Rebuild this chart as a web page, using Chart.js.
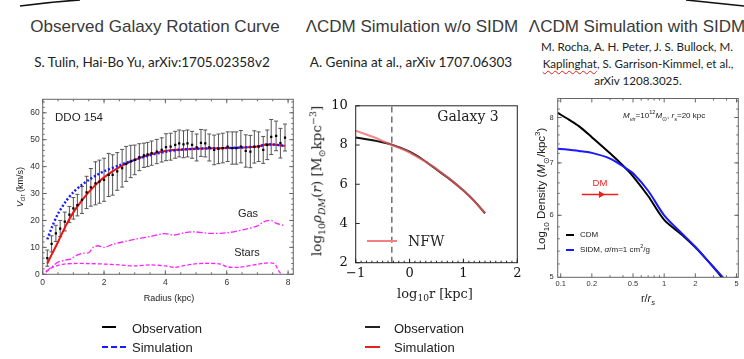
<!DOCTYPE html>
<html>
<head>
<meta charset="utf-8">
<script src="https://cdn.jsdelivr.net/npm/chart.js@4.4.1/dist/chart.umd.min.js"></script>
<style>
  body { margin: 0; background: #fff; }
  #wrap { position: relative; width: 744px; height: 359px; overflow: hidden; font-family: "Liberation Sans", Arial, sans-serif; color: #222; }
  canvas { position: absolute; }
  .t { position: absolute; white-space: nowrap; line-height: 1; transform: translate(-50%, -50%); }
  .l { position: absolute; white-space: nowrap; line-height: 1; transform: translate(0, -50%); }
  .rot { transform: translate(-50%, -50%) rotate(-90deg); }
  .title { font-size: 17px; color: #3a3a3a; }
  .cite { font-family: Lato, "Liberation Sans", sans-serif; font-size: 13.5px; color: #222; }
  .cite.sm { font-size: 11.6px; }
  .serif { font-family: "DejaVu Serif", serif; }
  .seg { position: absolute; height: 0; }
  sub, sup { font-size: 70%; line-height: 0; }
  .spell { text-decoration: underline wavy #e02020; text-decoration-thickness: 1px; text-underline-offset: 2px; }
</style>
</head>
<body>
<div id="wrap">
  <svg width="744" height="20" style="position:absolute;left:0;top:0">
    <path d="M20 6 Q 50 2 80 0" stroke="#111" stroke-width="1.6" fill="none"/>
    <path d="M686 0 Q 716 3 744 6" stroke="#111" stroke-width="1.6" fill="none"/>
  </svg>

  <!-- titles and references -->
  <div class="t title" style="left:155px;top:26px">Observed Galaxy Rotation Curve</div>
  <div class="t title" style="left:412px;top:26px">ΛCDM Simulation w/o SIDM</div>
  <div class="t title" style="left:637px;top:26px">ΛCDM Simulation with SIDM</div>
  <div class="t cite" style="left:152px;top:63px">S. Tulin, Hai-Bo Yu, arXiv:1705.02358v2</div>
  <div class="t cite" style="left:411px;top:63px">A. Genina at al., arXiv 1707.06303</div>
  <div class="t cite sm" style="left:637px;top:47px">M. Rocha, A. H. Peter, J. S. Bullock, M.</div>
  <div class="t cite sm" style="left:638px;top:64px"><span class="spell">Kaplinghat</span>, S. Garrison-Kimmel, et al.,</div>
  <div class="t cite sm" style="left:638px;top:81px">arXiv 1208.3025.</div>

  <canvas id="c1" width="300" height="200" style="left:0;top:90px"></canvas>
  <canvas id="c2" width="230" height="200" style="left:300px;top:90px"></canvas>
  <canvas id="c3" width="214" height="200" style="left:530px;top:90px"></canvas>

  <!-- panel 1 labels -->
  <div class="t" style="left:79px;top:118px;font-size:11.5px">DDO 154</div>
  <div class="t" style="left:248px;top:213px;font-size:11px">Gas</div>
  <div class="t" style="left:247px;top:252px;font-size:11px">Stars</div>
  <div class="t rot" style="left:20px;top:187px;font-size:9px"><i>V</i><sub>cir</sub>&nbsp;(km/s)</div>
  <div class="t" style="left:169px;top:298px;font-size:9px">Radius (kpc)</div>

  <!-- panel 2 labels -->
  <div class="t serif" style="left:468px;top:116px;font-size:14px">Galaxy 3</div>
  <div class="seg" style="left:367px;top:240px;width:30px;border-top:2px solid #f47f7f"></div>
  <div class="l serif" style="left:408px;top:241px;font-size:14px">NFW</div>
  <div class="t serif rot" style="left:317px;top:181px;font-size:13.5px">log<sub>10</sub><i>ρ</i><sub><i>DM</i></sub>(<i>r</i>) [M<sub>⊙</sub>kpc<sup>−3</sup>]</div>
  <div class="t serif" style="left:435px;top:293px;font-size:13px">log<sub>10</sub>r [kpc]</div>

  <!-- panel 3 labels -->
  <div class="l" style="left:623px;top:116px;font-size:8px"><i>M</i><sub><i>vir</i></sub>=10<sup>12</sup><i>M</i><sub>⊙</sub>, <i>r</i><sub><i>s</i></sub>=20 kpc</div>
  <div class="t" style="left:600px;top:183px;font-size:9.5px;color:#f02020">DM</div>
  <div class="seg" style="left:566px;top:234px;width:8px;border-top:2px solid #000"></div>
  <div class="l" style="left:580px;top:235px;font-size:8px">CDM</div>
  <div class="seg" style="left:566px;top:249px;width:8px;border-top:2px solid #1a1aff"></div>
  <div class="l" style="left:580px;top:250px;font-size:8px">SIDM, <i>σ</i>/m=1 cm<sup>2</sup>/g</div>
  <div class="t rot" style="left:542px;top:189px;font-size:11.5px">Log<sub>10</sub> Density (<i>M</i><sub>⊙</sub>/kpc<sup>3</sup>)</div>
  <div class="t" style="left:648px;top:298px;font-size:11px">r/<i>r</i><sub><i>s</i></sub></div>

  <!-- bottom legends -->
  <div class="seg" style="left:102px;top:326px;width:14px;border-top:2px solid #000"></div>
  <div class="l" style="left:132px;top:328px;font-size:13px">Observation</div>
  <div class="seg" style="left:102px;top:346px;width:24px;border-top:2px dashed #1a1aff"></div>
  <div class="l" style="left:132px;top:347px;font-size:13px">Simulation</div>
  <div class="seg" style="left:365px;top:326px;width:15px;border-top:2px solid #222"></div>
  <div class="l" style="left:394px;top:328px;font-size:13px">Observation</div>
  <div class="seg" style="left:365px;top:346px;width:15px;border-top:2px solid #e82020"></div>
  <div class="l" style="left:394px;top:347px;font-size:13px">Simulation</div>
</div>

<script>
// ---- Panel 1: DDO 154 rotation curve ----
const obsR = [0.15, 0.29, 0.43, 0.57, 0.72, 0.87, 1.0, 1.13, 1.28, 1.43, 1.57, 1.72, 1.85, 2.0, 2.15, 2.28, 2.43, 2.59, 2.72, 2.87, 3.0, 3.15, 3.3, 3.42, 3.55, 3.72, 3.88, 4.02, 4.17, 4.32, 4.45, 4.59, 4.72, 4.87, 5.02, 5.16, 5.3, 5.43, 5.59, 5.73, 5.87, 6.03, 6.18, 6.31, 6.46, 6.62, 6.77, 6.9, 7.04, 7.19, 7.32, 7.45, 7.61, 7.75, 7.9];
const obsV = [6.0, 11.3, 15.2, 17.0, 19.6, 22.2, 24.5, 25.7, 27.6, 30.4, 32.3, 33.8, 34.4, 35.1, 36.9, 36.9, 38.2, 39.4, 41.0, 41.9, 42.5, 43.5, 44.2, 44.5, 45.0, 45.6, 46.2, 47.2, 47.4, 48.1, 48.6, 48.3, 48.6, 48.1, 47.1, 48.8, 48.6, 47.1, 46.2, 46.6, 46.9, 47.4, 46.9, 46.9, 47.4, 45.8, 45.6, 47.3, 47.4, 46.2, 48.1, 51.0, 51.4, 48.7, 50.8];
const obsErr = [3, 3, 3, 3, 3.5, 3, 4, 4, 5, 6, 7, 8, 8, 8, 8, 7.5, 7, 7, 6.5, 6, 5.5, 5, 4.5, 4.5, 4.5, 4.5, 4.5, 5, 5, 5, 5, 5, 5, 5, 5, 5, 5, 5, 5.5, 5.5, 5.5, 5.5, 6, 6, 6, 6, 6, 6, 5.5, 5, 5.5, 6.5, 5.5, 5.5, 5];
const fitR = [0.15, 0.3, 0.5, 0.75, 1.0, 1.25, 1.5, 1.75, 2.0, 2.5, 3.0, 3.5, 4.0, 4.5, 5.0, 5.5, 6.0, 6.5, 7.0, 7.3, 7.5, 7.9];
const fitV = [4, 7.5, 12, 18, 23, 27, 30.5, 33.5, 36, 39.8, 42.5, 44.5, 45.8, 46.3, 46.6, 46.8, 46.9, 47.1, 47.5, 48.2, 48.2, 47.7];
const simR = [0.15, 0.3, 0.5, 0.75, 1.0, 1.25, 1.5, 1.75, 2.0, 2.5, 3.0, 3.5, 4.0, 4.5, 5.0, 5.5, 6.0, 6.5, 7.0, 7.3, 7.5, 7.9];
const simV = [13, 17.5, 22.5, 27, 30.5, 33, 35, 36.8, 38.3, 40.5, 42.5, 44.2, 45.5, 46.3, 46.6, 46.8, 46.9, 47.1, 47.5, 48.2, 48.2, 47.7];
const gasR = [0.1, 0.3, 0.5, 0.7, 0.9, 1.1, 1.3, 1.5, 1.65, 1.8, 2.0, 2.3, 2.6, 3.0, 3.5, 3.95, 4.3, 4.6, 4.9, 5.45, 6.0, 6.6, 7.0, 7.2, 7.45, 7.6, 7.9];
const gasV = [1.0, 2.8, 4.5, 5.2, 5.6, 7.0, 7.8, 8.0, 10.0, 10.6, 10.0, 11.2, 12.0, 13.0, 14.0, 15.1, 14.6, 15.4, 15.8, 15.2, 15.4, 16.7, 18.0, 19.5, 20.0, 19.0, 18.0];
const starR = [0.1, 0.3, 0.5, 0.7, 1.0, 1.5, 2.0, 2.5, 3.0, 3.5, 4.0, 4.3, 4.6, 4.9, 5.3, 5.8, 6.0, 6.4, 7.0, 7.2, 7.55, 7.68, 7.78];
const starV = [0.8, 2.5, 3.3, 3.8, 4.0, 4.0, 3.8, 3.5, 3.1, 3.5, 3.1, 2.6, 3.2, 3.8, 4.1, 3.8, 2.8, 2.6, 3.7, 4.1, 4.0, 1.5, 0];
const xTicks1 = [0, 2, 4, 6, 8];
const yTicks1 = [0, 10, 20, 30, 40, 50, 60];

// ---- Panel 2: Galaxy 3 density profile ----
const g3LogR = [-1, -0.8, -0.6, -0.33, 0, 0.25, 0.5, 0.75, 1.0, 1.2, 1.4];
const g3Rho = [8.38, 8.3, 8.2, 8.02, 7.66, 7.25, 6.75, 6.25, 5.68, 5.15, 4.52];
const nfwLogR = [-1, -0.66, -0.33, 0, 0.5, 1.0, 1.4];
const nfwRho = [8.73, 8.4, 8.0, 7.62, 6.78, 5.68, 4.55];
const rCut = -0.33;
const xTicks2 = [-1, 0, 1, 2];
const yTicks2 = [2, 4, 6, 8, 10];

// ---- Panel 3: CDM vs SIDM ----
const cdmR = [0.0936, 0.12, 0.15, 0.2, 0.3, 0.42, 0.5, 0.7, 1.0, 1.5, 2.0, 3.0, 3.6];
const cdmRho = [8.11, 7.95, 7.8, 7.55, 7.2, 6.9, 6.73, 6.35, 5.92, 5.66, 5.46, 5.15, 5.0];
const sidmR = [0.0936, 0.15, 0.2, 0.3, 0.42, 0.5, 0.7, 1.0, 1.5, 2.0, 3.0, 3.7];
const sidmRho = [7.3, 7.25, 7.21, 7.09, 6.9, 6.79, 6.45, 6.0, 5.68, 5.47, 5.15, 5.0];
const arrowR = [0.16, 0.36];
const arrowHeadR = 0.245;
const arrowRho = 6.38;
const xTicks3 = [0.1, 0.2, 0.5, 1, 2, 5];
const yTicks3 = [5, 6, 7, 8];

const pts = (xs, ys) => xs.map((x, i) => ({ x, y: ys[i] }));
const steps = (a, b, s) => { const r = []; for (let v = a; v <= b + 1e-9; v += s) r.push(+v.toFixed(3)); return r; };

// frame with inward ticks
const frameTicks = {
  id: 'frameTicks',
  afterDatasetsDraw(chart, args, o) {
    const { ctx, chartArea: a, scales: { x, y } } = chart;
    ctx.save();
    ctx.strokeStyle = o.color;
    ctx.lineWidth = 1;
    ctx.strokeRect(a.left, a.top, a.right - a.left, a.bottom - a.top);
    const xt = (vals, len) => vals.forEach(v => {
      const p = x.getPixelForValue(v);
      if (p < a.left - 0.5 || p > a.right + 0.5) return;
      ctx.beginPath();
      ctx.moveTo(p, a.bottom); ctx.lineTo(p, a.bottom - len);
      if (o.top) { ctx.moveTo(p, a.top); ctx.lineTo(p, a.top + len); }
      ctx.stroke();
    });
    const yt = (vals, len) => vals.forEach(v => {
      const p = y.getPixelForValue(v);
      if (p < a.top - 0.5 || p > a.bottom + 0.5) return;
      ctx.beginPath();
      ctx.moveTo(a.left, p); ctx.lineTo(a.left + len, p);
      if (o.right) { ctx.moveTo(a.right, p); ctx.lineTo(a.right - len, p); }
      ctx.stroke();
    });
    xt(o.xMajor, o.major); xt(o.xMinor, o.minor);
    yt(o.yMajor, o.major); yt(o.yMinor, o.minor);
    ctx.restore();
  }
};

// error bars for the observed points
const errorBars = {
  id: 'errorBars',
  beforeDatasetsDraw(chart) {
    const { ctx, chartArea: a, scales: { x, y } } = chart;
    ctx.save();
    ctx.beginPath();
    ctx.rect(a.left, a.top, a.right - a.left, a.bottom - a.top);
    ctx.clip();
    ctx.strokeStyle = '#555';
    ctx.lineWidth = 1;
    obsR.forEach((r, i) => {
      const px = x.getPixelForValue(r);
      const hi = y.getPixelForValue(obsV[i] + obsErr[i]);
      const lo = y.getPixelForValue(obsV[i] - obsErr[i]);
      ctx.beginPath();
      ctx.moveTo(px, hi); ctx.lineTo(px, lo);
      ctx.moveTo(px - 2, hi); ctx.lineTo(px + 2, hi);
      ctx.moveTo(px - 2, lo); ctx.lineTo(px + 2, lo);
      ctx.stroke();
    });
    ctx.restore();
  }
};

const base = (pad) => ({
  responsive: false,
  animation: false,
  events: [],
  layout: { padding: pad }
});
const curve = (data, color, width, dash) => ({
  type: 'scatter', data, showLine: true, pointRadius: 0,
  borderColor: color, borderWidth: width, borderDash: dash || [], tension: 0.3
});
const noGrid = { display: false, drawTicks: false };

// Chart 1
new Chart(document.getElementById('c1'), {
  type: 'scatter',
  data: {
    datasets: [
      { data: pts(obsR, obsV), pointStyle: 'rect', pointRadius: 1.6, backgroundColor: '#000', borderColor: '#000', borderWidth: 0 },
      curve(pts(simR, simV), '#1a1aff', 2.4, [2, 2]),
      curve(pts(fitR, fitV), '#ee1111', 2),
      curve(pts(gasR, gasV), '#ff22ff', 1.3, [6, 2, 1.5, 2]),
      curve(pts(starR, starV), '#ff22ff', 1.3, [4, 2])
    ]
  },
  options: {
    ...base({ top: 9.3, right: 6.7 }),
    plugins: {
      legend: { display: false }, tooltip: { enabled: false },
      frameTicks: { color: '#666', major: 4, minor: 2, top: true, right: true,
        xMajor: xTicks1, xMinor: steps(0, 8, 0.5), yMajor: yTicks1, yMinor: steps(0, 64, 2) }
    },
    scales: {
      x: {
        type: 'linear', min: 0, max: 8.17,
        grid: noGrid, border: { display: false },
        afterBuildTicks: s => { s.ticks = xTicks1.map(v => ({ value: v })); },
        afterFit: s => { s.height = 15.7; },
        ticks: { padding: 3, color: '#333', maxRotation: 0, font: { family: 'Liberation Sans', size: 8.5 } }
      },
      y: {
        min: 0, max: 65,
        grid: noGrid, border: { display: false },
        afterBuildTicks: s => { s.ticks = yTicks1.map(v => ({ value: v })); },
        afterFit: s => { s.width = 42.7; },
        ticks: { padding: 3, color: '#333', font: { family: 'Liberation Sans', size: 8.5 } }
      }
    }
  },
  plugins: [errorBars, frameTicks]
});

// Chart 2
const minusFmt = v => (v < 0 ? '\u2212' + Math.abs(v) : String(v));
new Chart(document.getElementById('c2'), {
  type: 'scatter',
  data: {
    datasets: [
      curve(pts(nfwLogR, nfwRho), 'rgba(240,100,100,0.75)', 2.2),
      curve(pts(g3LogR, g3Rho), '#111', 2),
      curve(pts([rCut, rCut], [2, 10]), '#777', 1.6, [6, 4])
    ]
  },
  options: {
    ...base({ top: 11, right: 12.7 }),
    plugins: {
      legend: { display: false }, tooltip: { enabled: false },
      frameTicks: { color: '#222', major: 4, minor: 2, top: false, right: false,
        xMajor: xTicks2, xMinor: steps(-1, 2, 0.1), yMajor: yTicks2, yMinor: [] }
    },
    scales: {
      x: {
        type: 'linear', min: -1, max: 2,
        grid: noGrid, border: { display: false },
        afterBuildTicks: s => { s.ticks = xTicks2.map(v => ({ value: v })); },
        afterFit: s => { s.height = 27.3; },
        ticks: { padding: 3, color: '#111', maxRotation: 0, callback: minusFmt, font: { family: 'DejaVu Serif', size: 13 } }
      },
      y: {
        min: 2, max: 10,
        grid: noGrid, border: { display: false },
        afterBuildTicks: s => { s.ticks = yTicks2.map(v => ({ value: v })); },
        afterFit: s => { s.width = 55.7; },
        ticks: { padding: 8, color: '#111', font: { family: 'DejaVu Serif', size: 13 } }
      }
    }
  },
  plugins: [frameTicks]
});

// Chart 3
new Chart(document.getElementById('c3'), {
  type: 'scatter',
  data: {
    datasets: [
      { data: pts([arrowHeadR], [arrowRho]), pointStyle: 'triangle', rotation: 90, pointRadius: 4, backgroundColor: '#f02020', borderColor: '#f02020', borderWidth: 0 },
      curve(pts(arrowR, [arrowRho, arrowRho]), '#f02020', 1.4),
      curve(pts(sidmR, sidmRho), '#1a1aff', 2),
      curve(pts(cdmR, cdmRho), '#000', 2)
    ]
  },
  options: {
    ...base({ top: 8.3, right: 5.7 }),
    plugins: {
      legend: { display: false }, tooltip: { enabled: false },
      frameTicks: { color: '#666', major: 4, minor: 2, top: true, right: true,
        xMajor: xTicks3, xMinor: [0.3, 0.4, 0.6, 0.7, 0.8, 0.9, 3, 4],
        yMajor: yTicks3, yMinor: steps(5.2, 8.4, 0.2) }
    },
    scales: {
      x: {
        type: 'logarithmic', min: 0.0936, max: 5.2,
        grid: noGrid, border: { display: false },
        afterBuildTicks: s => { s.ticks = xTicks3.map(v => ({ value: v })); },
        afterFit: s => { s.height = 12.7; },
        ticks: { padding: 2, color: '#333', maxRotation: 0, autoSkip: false, callback: v => String(v), font: { family: 'Liberation Sans', size: 7.5 } }
      },
      y: {
        type: 'logarithmic', min: 5, max: 8.46,
        grid: noGrid, border: { display: false },
        afterBuildTicks: s => { s.ticks = yTicks3.map(v => ({ value: v })); },
        afterFit: s => { s.width = 27.7; },
        ticks: { padding: 4, color: '#333', autoSkip: false, callback: v => String(v), font: { family: 'Liberation Sans', size: 7.5 } }
      }
    }
  },
  plugins: [frameTicks]
});
</script>
</body>
</html>
